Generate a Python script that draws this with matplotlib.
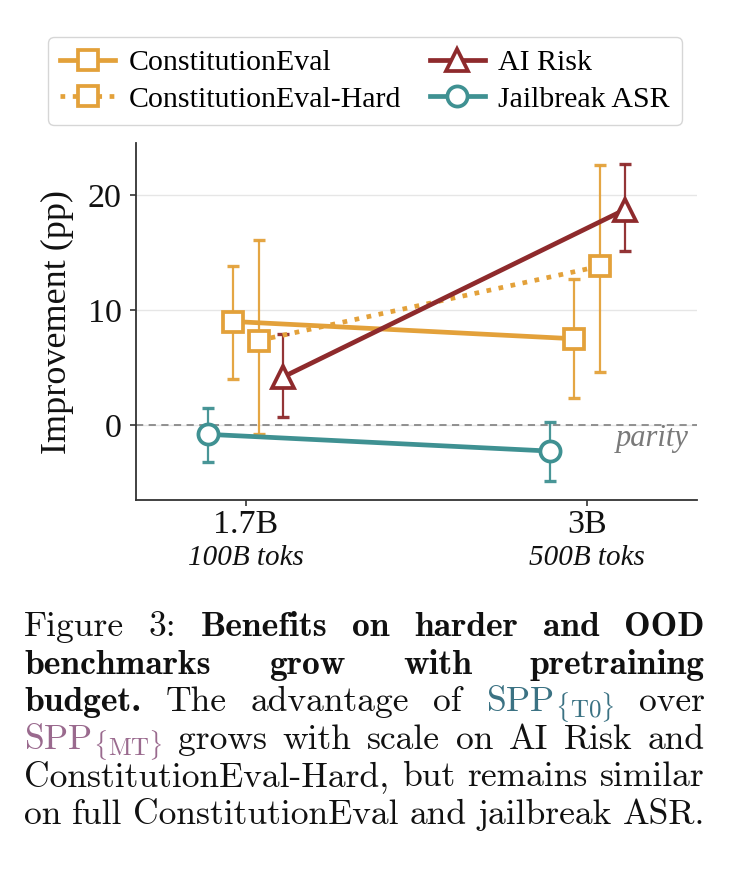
import matplotlib
matplotlib.use('Agg')
import matplotlib.pyplot as plt
from matplotlib.lines import Line2D
import matplotlib.transforms as mtransforms

plt.rcParams['font.family'] = ['Liberation Serif', 'DejaVu Serif']
plt.rcParams['mathtext.fontset'] = 'cm'

# ---------------- data ----------------
model_labels = ['1.7B', '3B']
token_labels = ['100B toks', '500B toks']
series_names = ['ConstitutionEval', 'ConstitutionEval-Hard', 'AI Risk', 'Jailbreak ASR']

const_vals = [9.0, 7.5]
const_lo = [4.0, 2.4]
const_hi = [13.85, 12.7]

hard_vals = [7.35, 13.8]
hard_lo = [-0.8, 4.6]
hard_hi = [16.1, 22.6]

airisk_vals = [4.2, 18.7]
airisk_lo = [0.7, 15.1]
airisk_hi = [7.9, 22.7]

jb_vals = [-0.8, -2.25]
jb_lo = [-3.2, -4.85]
jb_hi = [1.5, 0.3]

ORANGE = '#E3A13A'
RED = '#8E2A2C'
TEAL = '#3F9192'

W, H = 734, 876
fig = plt.figure(figsize=(W / 100, H / 100), dpi=100)
ax = fig.add_axes([136 / W, 1 - 500 / H, (697 - 136) / W, (500 - 143) / H])

base_x = [0.0, 1.0]

def draw(vals, lo, hi, offset, color, marker, ms, ls):
    xs = [b + offset for b in base_x]
    yerr = [[v - l for v, l in zip(vals, lo)], [h - v for v, h in zip(vals, hi)]]
    ax.errorbar(xs, vals, yerr=yerr, fmt='none', ecolor=color, elinewidth=1.6,
                capsize=4.5, capthick=2.4, alpha=0.95, zorder=2)
    ax.plot(xs, vals, color=color, lw=3.4, ls=ls, marker=marker, ms=ms,
            mfc='white', mec=color, mew=2.7, zorder=3)

draw(jb_vals, jb_lo, jb_hi, -0.11, TEAL, 'o', 14.5, '-')
draw(const_vals, const_lo, const_hi, -0.037, ORANGE, 's', 14, '-')
draw(hard_vals, hard_lo, hard_hi, 0.037, ORANGE, 's', 14, (0, (1, 1.6)))
draw(airisk_vals, airisk_lo, airisk_hi, 0.11, RED, '^', 16, '-')

ax.axhline(0, color='#888888', lw=1.3, ls=(0, (4, 3)), zorder=1)
trans = mtransforms.blended_transform_factory(ax.transAxes, ax.transData)
ax.text(0.985, -1.15, 'parity', transform=trans, ha='right', va='center',
        fontsize=22, style='italic', color='#7a7a7a')

ax.set_xlim(-0.3225, 1.3225)
ax.set_ylim(-6.5, 24.5)
ax.set_yticks([0, 10, 20])
ax.set_xticks(base_x)
ax.set_xticklabels(model_labels)
ax.tick_params(axis='both', labelsize=24.5, length=4, width=1.2, color='#333333',
               labelcolor='#111111')
ax.tick_params(axis='y', pad=6.5)
ax.tick_params(axis='x', pad=3)
for i, t in enumerate(token_labels):
    ax.annotate(t, xy=(base_x[i], 0), xycoords=('data', 'axes fraction'),
                xytext=(0, -32.5), textcoords='offset points', ha='center', va='top',
                fontsize=21, style='italic', color='#111111')
ax.yaxis.grid(True, color='#e6e6e6', lw=1.0, zorder=0)
ax.set_axisbelow(True)
for s in ['top', 'right']:
    ax.spines[s].set_visible(False)
for s in ['left', 'bottom']:
    ax.spines[s].set_color('#333333')
    ax.spines[s].set_linewidth(1.3)
ax.set_ylabel('Improvement (pp)', fontsize=26, color='#111111', labelpad=10)

handles = [
    Line2D([], [], color=ORANGE, lw=3.4, marker='s', ms=14, mfc='white', mec=ORANGE, mew=2.7),
    Line2D([], [], color=ORANGE, lw=3.4, ls=(0, (1, 1.6)), marker='s', ms=14, mfc='white', mec=ORANGE, mew=2.7),
    Line2D([], [], color=RED, lw=3.4, marker='^', ms=16, mfc='white', mec=RED, mew=2.7),
    Line2D([], [], color=TEAL, lw=3.4, marker='o', ms=14.5, mfc='white', mec=TEAL, mew=2.7),
]
leg = fig.legend(handles, series_names, loc='upper center', bbox_to_anchor=(365 / W, 1 - 37 / H),
                 borderaxespad=0, ncol=2, fontsize=21.5, handlelength=1.85, handletextpad=0.45,
                 columnspacing=0.95, labelspacing=0.32, borderpad=0.42, frameon=True,
                 fancybox=True, edgecolor='#cccccc')
leg.get_frame().set_linewidth(1.0)

# ---------------- caption (justified) ----------------
T0 = r'SPP$_{\{\mathrm{T0}\}}$'
MT = r'SPP$_{\{\mathrm{MT}\}}$'
caption_lines = [
    [('Figure', 'r'), ('3:', 'r'), ('Benefits', 'b'), ('on', 'b'), ('harder', 'b'), ('and', 'b'), ('OOD', 'b')],
    [('benchmarks', 'b'), ('grow', 'b'), ('with', 'b'), ('pretraining', 'b')],
    [('budget.', 'b'), ('The', 'r'), ('advantage', 'r'), ('of', 'r'), (T0, 't'), ('over', 'r')],
    [(MT, 'm'), ('grows', 'r'), ('with', 'r'), ('scale', 'r'), ('on', 'r'), ('AI', 'r'), ('Risk', 'r'), ('and', 'r')],
    [('ConstitutionEval-Hard,', 'r'), ('but', 'r'), ('remains', 'r'), ('similar', 'r')],
    [('on', 'r'), ('full', 'r'), ('ConstitutionEval', 'r'), ('and', 'r'), ('jailbreak', 'r'), ('ASR.', 'r')],
]
styles = {
    'r': dict(family='cmr10', color='#111111'),
    'b': dict(family='cmb10', color='#111111'),
    't': dict(family='cmr10', color='#3b7283'),
    'm': dict(family='cmr10', color='#9a6a8e'),
}
CAP_SIZE = 25.6
x_left, x_right = 24, 705
baseline0, line_gap = 636, 37.6
renderer = fig.canvas.get_renderer()
for li, line in enumerate(caption_lines):
    y = 1 - (baseline0 + li * line_gap) / H
    texts = []
    for word, st in line:
        t = fig.text(0, y, word, fontsize=CAP_SIZE, va='baseline', ha='left', **styles[st])
        texts.append(t)
    widths = [t.get_window_extent(renderer).width for t in texts]
    gap = (x_right - x_left - sum(widths)) / (len(texts) - 1)
    x = x_left
    for t, w in zip(texts, widths):
        t.set_x(x / W)
        x += w + gap

fig.savefig('out.png', dpi=100)
